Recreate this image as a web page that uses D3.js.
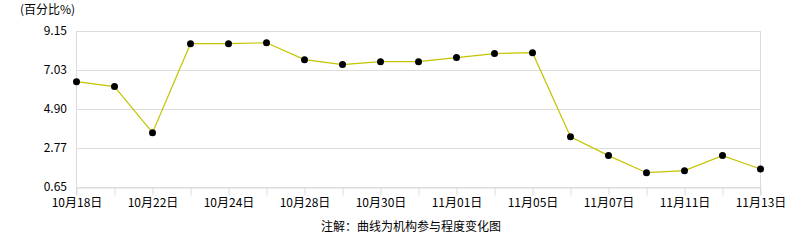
<!DOCTYPE html>
<html><head><meta charset="utf-8">
<script src="https://cdn.jsdelivr.net/npm/d3@7"></script>
<style>body{margin:0;background:#fff}svg{display:block}text{font-family:"SimSun","Noto Sans CJK SC",sans-serif;font-size:12px;fill:#000}</style>
</head><body><svg id="c" width="786" height="240"></svg>
<script>
const categories = ["10月18日","10月21日","10月22日","10月23日","10月24日","10月25日","10月28日","10月29日","10月30日","10月31日","11月01日","11月04日","11月05日","11月06日","11月07日","11月08日","11月11日","11月12日","11月13日"];
const shownLabels = ["10月18日","10月22日","10月24日","10月28日","10月30日","11月01日","11月05日","11月07日","11月11日","11月13日"];
const values = [6.39,6.12,3.61,8.46,8.46,8.51,7.59,7.32,7.48,7.48,7.70,7.92,7.97,3.39,2.36,1.43,1.54,2.36,1.63];
const yTicks = [0.65,2.77,4.90,7.03,9.15];
const yTitle = "(百分比%)";
const note = "注解：曲线为机构参与程度变化图";

const svg = d3.select("#c");
const L=76.5, R=760.5, T=31, B=187;
const x = d3.scalePoint().domain(categories).range([L,R]);
const y = d3.scaleLinear().domain([0.65,9.15]).range([B,T]);

// grid
svg.append("g").selectAll("line").data(yTicks).join("line")
  .attr("x1",L).attr("x2",R).attr("y1",d=>Math.round(y(d))+0.5).attr("y2",d=>Math.round(y(d))+0.5)
  .attr("stroke","#dcdcdc");
// left & right borders
svg.append("line").attr("x1",L).attr("x2",L).attr("y1",T).attr("y2",B+8).attr("stroke","#dcdcdc");
svg.append("line").attr("x1",R).attr("x2",R).attr("y1",T).attr("y2",B+8).attr("stroke","#dcdcdc");

// y labels
svg.append("g").selectAll("text").data(yTicks).join("text")
  .attr("x",67).attr("y",d=>y(d)).attr("dy","0.35em").attr("text-anchor","end")
  .text(d=>d3.format(".2f")(d));

// x axis
const xa = svg.append("g").attr("transform",`translate(0,${B+0.5})`)
  .call(d3.axisBottom(x).tickSizeInner(8).tickSizeOuter(0).tickPadding(3)
    .tickFormat(d=>shownLabels.includes(d)?d:""));
xa.select(".domain").attr("stroke","#dcdcdc");
xa.selectAll(".tick line").attr("stroke","#dcdcdc");
xa.selectAll(".tick text").attr("font-size",null).attr("font-family",null);

// line
svg.append("path").datum(values)
  .attr("fill","none").attr("stroke","#c4c400").attr("stroke-width",1.2)
  .attr("d",d3.line().x((d,i)=>x(categories[i])).y(d=>y(d)));
svg.append("g").selectAll("circle").data(values).join("circle")
  .attr("cx",(d,i)=>x(categories[i])).attr("cy",d=>y(d)).attr("r",3.5).attr("fill","#000");

svg.append("text").attr("x",20).attr("y",14).text(yTitle);
svg.append("text").attr("x",411).attr("y",231).attr("text-anchor","middle").text(note);
</script></body></html>
